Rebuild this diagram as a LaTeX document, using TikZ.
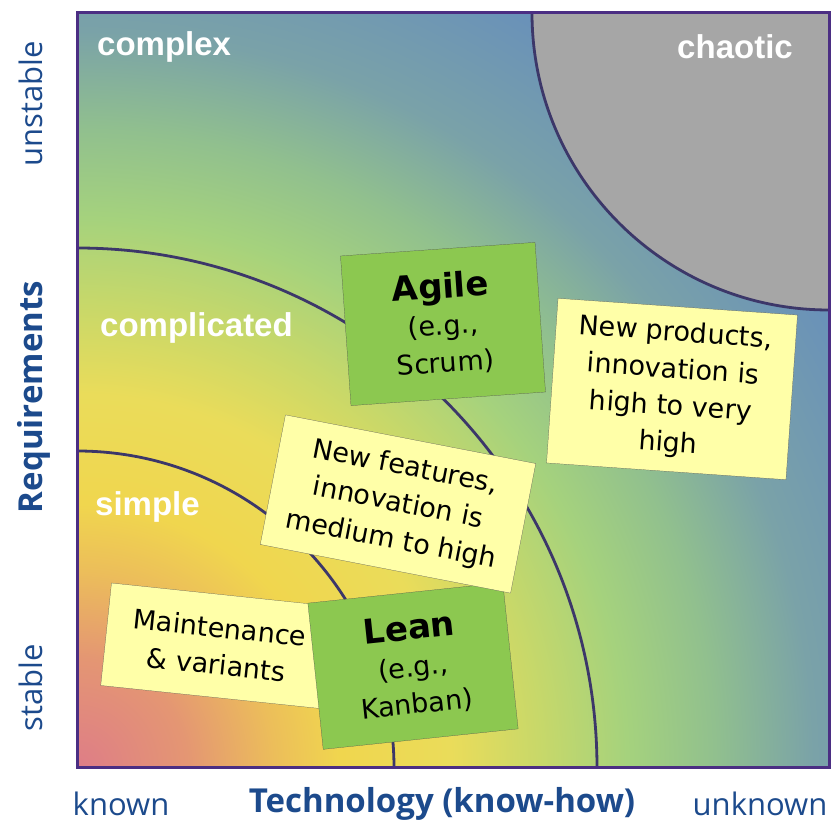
\documentclass[tikz,border=0pt]{standalone}
\usepackage{fontspec}
\usepackage{tikz}
\newfontfamily\notefont{DejaVu Sans}
\newfontfamily\zonefont{Liberation Sans}
\newfontfamily\axisfont{Open Sans}

\definecolor{framepurple}{RGB}{75,46,131}
\definecolor{arcline}{RGB}{60,55,105}
\definecolor{axisblue}{RGB}{28,74,140}
\definecolor{noteyellow}{RGB}{255,255,168}
\definecolor{methodgreen}{RGB}{140,200,80}
\definecolor{chaosgray}{RGB}{166,166,166}
\definecolor{z0}{RGB}{222,125,135}
\definecolor{z1}{RGB}{228,150,115}
\definecolor{z2}{RGB}{236,190,90}
\definecolor{z3}{RGB}{240,214,78}
\definecolor{z4}{RGB}{234,220,90}
\definecolor{z5}{RGB}{200,216,105}
\definecolor{z6}{RGB}{165,210,125}
\definecolor{z7}{RGB}{145,192,142}
\definecolor{z8}{RGB}{122,162,168}
\definecolor{z9}{RGB}{105,145,185}
\definecolor{z10}{RGB}{95,135,190}

% radius 1100 of the shaded circle is 25bp here
\pgfdeclareradialshading{zones}{\pgfpoint{0bp}{0bp}}{%
  color(0bp)=(z0); color(2.5bp)=(z1); color(4.5bp)=(z2); color(6bp)=(z3);
  color(8.5bp)=(z4); color(10.5bp)=(z5); color(12.5bp)=(z6); color(14.5bp)=(z7);
  color(16.75bp)=(z8); color(20bp)=(z9); color(25bp)=(z10); color(50bp)=(z10)}

\tikzset{
  note/.style={draw=gray!60!black, very thin, fill=noteyellow, align=center,
    inner sep=0pt, font=\notefont\fontsize{27}{37}\selectfont},
  method/.style={note, fill=methodgreen},
  zone/.style={text=white, inner sep=0pt,
    font=\zonefont\bfseries\fontsize{33}{33}\selectfont},
  axis/.style={text=axisblue, inner sep=0pt,
    font=\axisfont\fontsize{31}{31}\selectfont},
  axistitle/.style={axis, font=\axisfont\bfseries\fontsize{33}{33}\selectfont},
  border/.style={draw=arcline, line width=2.8pt},
}

\begin{document}
\begin{tikzpicture}[x=1pt, y=1pt]
    \useasboundingbox (0,0) rectangle (832,824);
    % background
    \begin{scope}
      \clip (77,56) rectangle (829,811);
      \shade[shading=zones] (77,56) circle (1100);
      \fill[chaosgray] (532,811) arc (180:270:297) -- (829,811) -- cycle;
    \end{scope}
    \draw[border] (77,373) arc (90:0:317);
    \draw[border] (77,576) arc (90:0:520);
    \draw[border] (532,811) arc (180:270:297);
    \draw[framepurple, line width=3pt] (77,56) rectangle (829,811);

    % zones
    \node[zone, anchor=west] (complex) at (97,777) {complex};
    \node[zone] (chaotic) at (735,777) {chaotic};
    \node[zone, anchor=west] (complicated) at (100,496) {complicated};
    \node[zone, anchor=west] (simple) at (95,317) {simple};

    % notes
    \node[note, minimum width=225, minimum height=103, rotate=-6] (maint) at (218,178) {Maintenance\\\& variants};
    \node[method, minimum width=196, minimum height=147, rotate=6] (lean) at (413,158) {{\bfseries\fontsize{34}{46}\selectfont Lean}\\(e.g.,\\Kanban)};
    \node[note, minimum width=255, minimum height=132, rotate=-11] (features) at (398,320) {New features,\\innovation is\\medium to high};
    \node[method, minimum width=195, minimum height=150, rotate=4] (agile) at (443,500) {{\bfseries\fontsize{34}{46}\selectfont Agile}\\(e.g.,\\Scrum)};
    \node[note, minimum width=240, minimum height=165, rotate=-4] (products) at (672,435) {New products,\\innovation is\\high to very\\high};

    % axes
    \node[axis, rotate=90, anchor=base] (unstable) at (42,720) {unstable};
    \node[axistitle, rotate=90, anchor=base] (req) at (42,427) {Requirements};
    \node[axis, rotate=90, anchor=base] (stable) at (42,136) {stable};
    \node[axis, anchor=base] (known) at (121,9) {known};
    \node[axistitle, anchor=base] (tech) at (442,12) {Technology (know-how)};
    \node[axis, anchor=base] (unknown) at (760,9) {unknown};
  \end{tikzpicture}
\end{document}
